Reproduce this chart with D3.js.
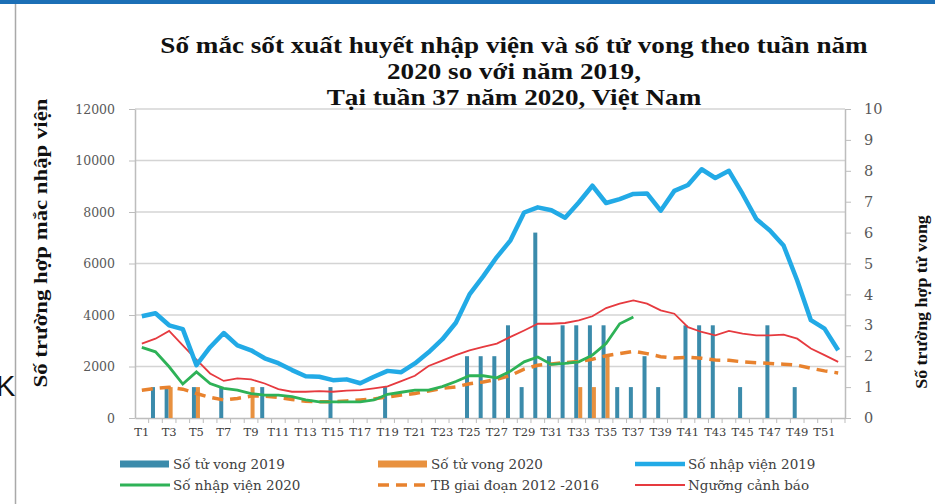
<!DOCTYPE html>
<html>
<head>
<meta charset="utf-8">
<script src="https://cdn.jsdelivr.net/npm/d3@7"></script>
<style>
    body { margin: 0; background: #fff; }
    svg text { font-family: "DejaVu Serif", serif; }
    .ttl { font-family: "Liberation Serif", "Times New Roman", serif !important; font-weight: bold; fill: #111; }
</style>
</head>
<body>
<svg id="chart" width="935" height="504"></svg>
<script>
// Dengue admissions & deaths by week, Vietnam 2020 vs 2019

const weeks = ['T1','T2','T3','T4','T5','T6','T7','T8','T9','T10','T11','T12','T13',
    'T14','T15','T16','T17','T18','T19','T20','T21','T22','T23','T24','T25','T26',
    'T27','T28','T29','T30','T31','T32','T33','T34','T35','T36','T37','T38','T39',
    'T40','T41','T42','T43','T44','T45','T46','T47','T48','T49','T50','T51','T52'];

const deaths2019 = [0,1,1,0,1,0,1,0,0,1,0,0,0,0,1,0,0,0,1,0,0,0,0,0,2,2,
    2,3,1,6,2,3,3,3,3,1,1,2,1,0,3,3,3,0,1,0,3,0,1,0,0,0];

const deaths2020 = [0,0,1,0,1,0,0,0,1,0,0,0,0,0,0,0,0,0,0,0,0,0,0,0,0,0,
    0,0,0,0,0,0,1,1,2,0,0];

const admissions2019 = [3950,4070,3600,3450,2050,2750,3300,2820,2630,2320,2130,1860,1620,
    1600,1470,1500,1350,1600,1830,1780,2120,2550,3050,3700,4800,5500,
    6250,6900,7980,8180,8070,7780,8370,9020,8350,8500,8700,8720,8050,
    8820,9050,9660,9320,9600,8700,7730,7280,6700,5340,3800,3470,2630];

const admissions2020 = [2740,2570,1990,1320,1790,1340,1150,1080,950,890,890,830,700,
    630,630,630,630,700,920,1000,1080,1080,1220,1420,1640,1640,
    1560,1820,2180,2370,2080,2120,2180,2440,2890,3660,3920];

const avg2012_2016 = [1080,1150,1190,1120,950,800,700,760,850,850,800,720,650,
    630,630,660,700,740,820,890,950,1050,1150,1210,1330,1400,
    1500,1650,1900,2050,2100,2150,2200,2280,2420,2500,2590,2500,2380,
    2330,2360,2320,2250,2240,2180,2150,2120,2090,2050,1930,1830,1750];

const alertThreshold = [2890,3080,3380,2820,2270,1730,1440,1540,1500,1340,1120,1020,1020,
    1040,1020,1060,1080,1150,1230,1430,1640,2020,2230,2440,2630,2760,
    2890,3150,3400,3660,3660,3690,3790,3950,4270,4440,4570,4440,4180,
    4050,3530,3340,3210,3380,3280,3210,3210,3240,3080,2700,2440,2180];

const leftTicks = [0, 2000, 4000, 6000, 8000, 10000, 12000];
const rightTicks = [0, 1, 2, 3, 4, 5, 6, 7, 8, 9, 10];

const titleLines = [
    'Số mắc sốt xuất huyết nhập viện và số tử vong theo tuần năm',
    '2020 so với năm 2019,',
    'Tại tuần 37 năm 2020, Việt Nam'
];

const legendItems = [
    { label: 'Số tử vong 2019', kind: 'bar', color: '#3b8bab' },
    { label: 'Số tử vong 2020', kind: 'bar', color: '#e8913f' },
    { label: 'Số nhập viện 2019', kind: 'thick', color: '#22aae6' },
    { label: 'Số nhập viện 2020', kind: 'line', color: '#2eb257' },
    { label: 'TB giai đoạn 2012 -2016', kind: 'dash', color: '#e8822e' },
    { label: 'Ngưỡng cảnh báo', kind: 'thin', color: '#e63a3f' }
];

const svg = d3.select('#chart');
const plot = { left: 135, right: 845, top: 109, bottom: 418 };

// slide frame bits
svg.append('rect').attr('x', 0).attr('y', 0).attr('width', 935).attr('height', 4).attr('fill', '#1c6fb6');
svg.append('line').attr('x1', 15.5).attr('x2', 15.5).attr('y1', 4).attr('y2', 504)
    .attr('stroke', '#a9a9a9').attr('stroke-width', 1.5);
svg.append('text').attr('x', -4).attr('y', 396).text('K')
    .style('font-family', '"Liberation Sans", Arial, sans-serif').style('font-size', '29px').attr('fill', '#111');

const x = d3.scaleBand().domain(weeks).range([plot.left, plot.right]).padding(0);
const yL = d3.scaleLinear().domain([0, 12000]).range([plot.bottom, plot.top]);
const yR = d3.scaleLinear().domain([0, 10]).range([plot.bottom, plot.top]);
const bw = x.bandwidth();
const cx = w => x(w) + bw / 2;
const x1 = d3.scaleBand().domain(['2019', '2020']).range([bw / 2 - 4.5, bw / 2 + 3.5]).padding(0);

// gridlines
svg.append('g').selectAll('line').data(leftTicks.slice(1)).join('line')
    .attr('x1', plot.left).attr('x2', plot.right)
    .attr('y1', d => yL(d)).attr('y2', d => yL(d))
    .attr('stroke', '#d4d4d4').attr('stroke-width', 1.5);

// left axis
const axL = svg.append('g').attr('transform', `translate(${plot.left},0)`)
    .call(d3.axisLeft(yL).tickValues(leftTicks).tickFormat(d3.format('d'))
        .tickSize(6).tickPadding(14).tickSizeOuter(0));
axL.select('.domain').attr('stroke', '#bdbdbd').attr('stroke-width', 1.5);
axL.selectAll('.tick line').attr('stroke', '#bdbdbd');
axL.selectAll('.tick text').attr('fill', '#595959').style('font-size', '12.5px');

// right axis
const axR = svg.append('g').attr('transform', `translate(${plot.right},0)`)
    .call(d3.axisRight(yR).tickValues(rightTicks).tickSize(6).tickPadding(13).tickSizeOuter(0));
axR.select('.domain').attr('stroke', '#bdbdbd').attr('stroke-width', 1.5);
axR.selectAll('.tick line').attr('stroke', '#bdbdbd');
axR.selectAll('.tick text').attr('fill', '#595959').style('font-size', '14.5px');

// bottom axis: labels on odd weeks, ticks between categories
const axB = svg.append('g').attr('transform', `translate(0,${plot.bottom})`)
    .call(d3.axisBottom(x).tickSize(0).tickPadding(10).tickFormat((d, i) => i % 2 === 0 ? d : ''));
axB.select('.domain').attr('stroke', '#bdbdbd').attr('stroke-width', 1.5);
axB.selectAll('.tick text').attr('fill', '#404040').style('font-size', '11.5px');
svg.append('g').selectAll('line').data(weeks).join('line')
    .attr('x1', d => x(d) + bw).attr('x2', d => x(d) + bw)
    .attr('y1', plot.bottom).attr('y2', plot.bottom + 5)
    .attr('stroke', '#bdbdbd');

// death bars
const bars = svg.append('g');
bars.selectAll('.b19').data(deaths2019).join('rect').attr('class', 'b19')
    .attr('x', (d, i) => x(weeks[i]) + x1('2019'))
    .attr('width', x1.bandwidth())
    .attr('y', d => yR(d)).attr('height', d => yR(0) - yR(d))
    .attr('fill', '#3b8bab');
bars.selectAll('.b20').data(deaths2020).join('rect').attr('class', 'b20')
    .attr('x', (d, i) => x(weeks[i]) + x1('2020'))
    .attr('width', x1.bandwidth())
    .attr('y', d => yR(d)).attr('height', d => yR(0) - yR(d))
    .attr('fill', '#e8913f');

// lines
const line = d3.line().x((d, i) => cx(weeks[i])).y(d => yL(d));

svg.append('path').datum(avg2012_2016).attr('d', line)
    .attr('fill', 'none').attr('stroke', '#e8822e').attr('stroke-width', 3.5)
    .attr('stroke-dasharray', '11,7');
svg.append('path').datum(alertThreshold).attr('d', line)
    .attr('fill', 'none').attr('stroke', '#e63a3f').attr('stroke-width', 1.8);
svg.append('path').datum(admissions2020).attr('d', line)
    .attr('fill', 'none').attr('stroke', '#2eb257').attr('stroke-width', 2.8);
svg.append('path').datum(admissions2019).attr('d', line)
    .attr('fill', 'none').attr('stroke', '#22aae6').attr('stroke-width', 4.5)
    .attr('stroke-linejoin', 'round');

// title (source text is horizontally stretched)
svg.append('g').attr('transform', 'translate(514,0) scale(1.18,1)')
    .selectAll('text').data(titleLines).join('text')
    .attr('class', 'ttl')
    .attr('x', 0).attr('y', (d, i) => 53 + i * 26)
    .attr('text-anchor', 'middle')
    .style('font-size', '23px')
    .text(d => d);

// axis titles
svg.append('text').attr('class', 'ttl')
    .attr('transform', 'translate(47,243) rotate(-90) scale(1.2,1)')
    .attr('text-anchor', 'middle').style('font-size', '19px')
    .text('Số trường hợp mắc nhập viện');
svg.append('text').attr('class', 'ttl')
    .attr('transform', 'translate(927,302) rotate(-90) scale(1.12,1)')
    .attr('text-anchor', 'middle').style('font-size', '16px')
    .text('Số trường hợp tử vong');

// legend
const legCols = [120, 378, 635];
const legRows = [464, 485];
const leg = svg.append('g').selectAll('g').data(legendItems).join('g')
    .attr('transform', (d, i) => `translate(${legCols[i % 3]},${legRows[Math.floor(i / 3)]})`);
leg.each(function (d) {
    const g = d3.select(this);
    if (d.kind === 'bar') {
        g.append('rect').attr('x', 0).attr('y', -3.5).attr('width', 49).attr('height', 7).attr('fill', d.color);
    } else {
        const sw = { thick: 4.5, line: 2.8, dash: 3.5, thin: 2 }[d.kind];
        g.append('line').attr('x1', 0).attr('x2', 50).attr('y1', 0).attr('y2', 0)
            .attr('stroke', d.color).attr('stroke-width', sw)
            .attr('stroke-dasharray', d.kind === 'dash' ? '11,7' : null);
    }
    g.append('text').attr('x', 53).attr('y', 5).attr('fill', '#404040')
        .style('font-size', '13.5px').text(d.label);
});
</script>
</body>
</html>
